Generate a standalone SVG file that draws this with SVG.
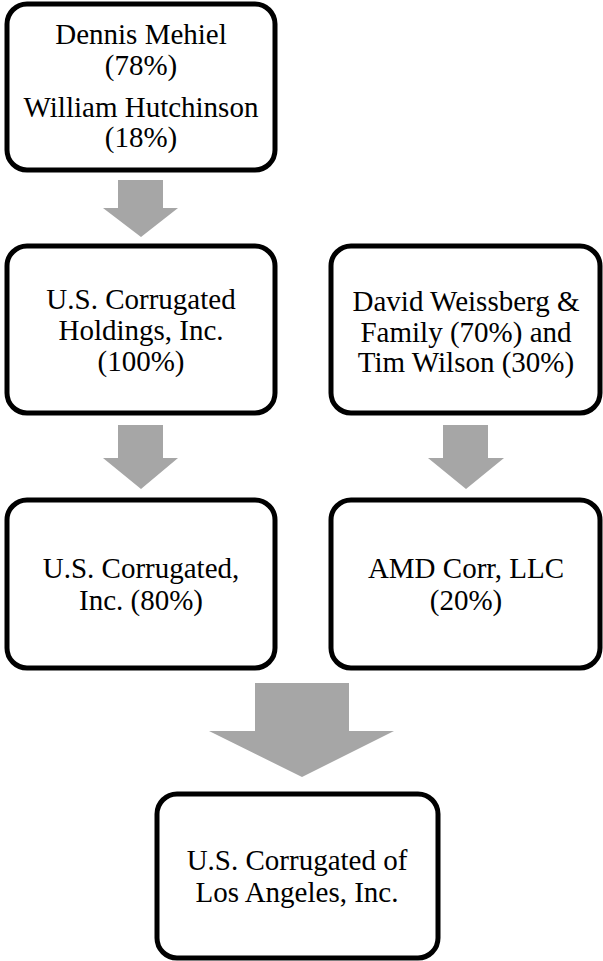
<svg xmlns="http://www.w3.org/2000/svg" width="603" height="961" viewBox="0 0 603 961">
<style>
.box{fill:#fff;stroke:#000;stroke-width:5}
.arr{fill:#a6a6a6}
.t{font-family:'Liberation Serif','Times New Roman',serif;font-size:29px;fill:#000;text-anchor:middle}
</style>
<rect width="603" height="961" fill="#fff"/>
<g id="connectors">
<polygon class="arr" points="118,180 163,180 163,208 178,208 141,237 103,208 118,208"/>
<polygon class="arr" points="118,425 163,425 163,458 178,458 141,489 103,458 118,458"/>
<polygon class="arr" points="443,425 488,425 488,458 504,458 466,489 428,458 443,458"/>
<polygon class="arr" points="255,683 349,683 349,731 394,731 302,777 209,731 255,731"/>
</g>
<g class="t">
<g id="n1"><rect class="box" x="7" y="4" width="268" height="166" rx="20"/>
<text x="141" y="44">Dennis Mehiel</text><text x="141" y="75">(78%)</text>
<text x="141" y="117">William Hutchinson</text><text x="141" y="147">(18%)</text></g>
<g id="n2"><rect class="box" x="7" y="246" width="268" height="167" rx="20"/>
<text x="141" y="309">U.S. Corrugated</text><text x="141" y="340">Holdings, Inc.</text><text x="141" y="371">(100%)</text></g>
<g id="n3"><rect class="box" x="331" y="246" width="269" height="167" rx="20"/>
<text x="466" y="311">David Weissberg &amp;</text><text x="466" y="342">Family (70%) and</text><text x="466" y="372">Tim Wilson (30%)</text></g>
<g id="n4"><rect class="box" x="7" y="500" width="268" height="168" rx="20"/>
<text x="141" y="578">U.S. Corrugated,</text><text x="141" y="610">Inc. (80%)</text></g>
<g id="n5"><rect class="box" x="331" y="500" width="269" height="168" rx="20"/>
<text x="466" y="578">AMD Corr, LLC</text><text x="466" y="610">(20%)</text></g>
<g id="n6"><rect class="box" x="157" y="794" width="281" height="164" rx="20"/>
<text x="297" y="870">U.S. Corrugated of</text><text x="297" y="902">Los Angeles, Inc.</text></g>
</g>
</svg>
